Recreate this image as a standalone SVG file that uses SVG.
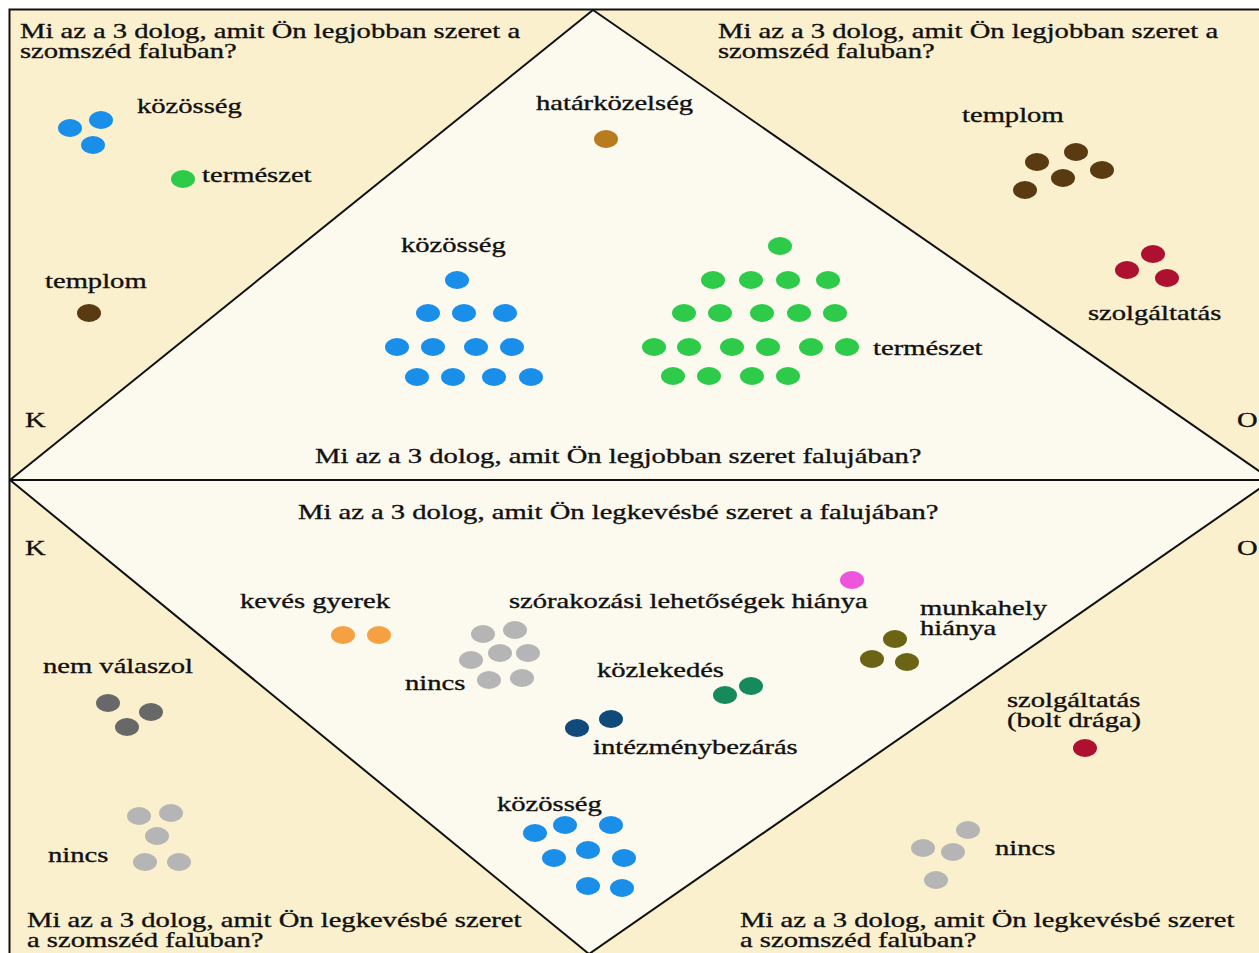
<svg xmlns="http://www.w3.org/2000/svg" width="1259" height="953" viewBox="0 0 1259 953">
<style>
text{font-family:"Liberation Serif","Times New Roman",serif;font-size:22px;fill:#111;stroke:#111;stroke-width:0.35}
.frame{stroke:#111;stroke-width:2}
.outer{fill:#FBF0CE}
.inner{fill:#FCF9EE;stroke:none}
.lines{fill:none}
.blue{fill:#1A8FEA}.green{fill:#2DCB49}.ochre{fill:#B77C1E}.brown{fill:#5A3A10}
.red{fill:#AE1130}.orange{fill:#F5A142}.lgray{fill:#B5B5B5}.dgray{fill:#686868}
.pink{fill:#EE55DD}.olive{fill:#6B6414}.teal{fill:#178A5C}.navy{fill:#0F4A7A}
</style>
<defs>
<ellipse id="d" cx="0" cy="0" rx="12" ry="9"/>
</defs>
<rect x="0" y="0" width="1259" height="953" fill="#fff"/>
<g id="frame">
<rect x="9.5" y="9.5" width="1262" height="962" class="frame outer"/>
<polygon points="593,10 1272,480 589,954 10,480" class="inner"/>
</g>
<g id="connectors" class="frame lines">
<line x1="593" y1="10" x2="10" y2="480"/>
<line x1="593" y1="10" x2="1272" y2="480"/>
<line x1="10" y1="480" x2="589" y2="954"/>
<line x1="589" y1="954" x2="1272" y2="480"/>
<line x1="10" y1="480" x2="1272" y2="480"/>
</g>
<g id="titles">
<text transform="translate(20,38) scale(1.3,1)">Mi az a 3 dolog, amit Ön legjobban szeret a<tspan x="0" dy="20">szomszéd faluban?</tspan></text>
<text transform="translate(718,38) scale(1.3,1)">Mi az a 3 dolog, amit Ön legjobban szeret a<tspan x="0" dy="20">szomszéd faluban?</tspan></text>
<text transform="translate(315,463) scale(1.3,1)">Mi az a 3 dolog, amit Ön legjobban szeret falujában?</text>
<text transform="translate(298,519) scale(1.3,1)">Mi az a 3 dolog, amit Ön legkevésbé szeret a falujában?</text>
<text transform="translate(27,927) scale(1.3,1)">Mi az a 3 dolog, amit Ön legkevésbé szeret<tspan x="0" dy="20">a szomszéd faluban?</tspan></text>
<text transform="translate(740,927) scale(1.3,1)">Mi az a 3 dolog, amit Ön legkevésbé szeret<tspan x="0" dy="20">a szomszéd faluban?</tspan></text>
<text transform="translate(25,427) scale(1.3,1)">K</text>
<text transform="translate(1237,427) scale(1.3,1)">O</text>
<text transform="translate(25,555) scale(1.3,1)">K</text>
<text transform="translate(1237,555) scale(1.3,1)">O</text>
</g>
<g id="tl-kozosseg">
<text transform="translate(137,113) scale(1.3,1)">közösség</text>
<use href="#d" x="70" y="128" class="blue"/><use href="#d" x="101" y="120" class="blue"/><use href="#d" x="93" y="145" class="blue"/>
</g>
<g id="tl-termeszet">
<use href="#d" x="183" y="179" class="green"/>
<text transform="translate(202,182) scale(1.3,1)">természet</text>
</g>
<g id="tl-templom">
<text transform="translate(45,288) scale(1.3,1)">templom</text>
<use href="#d" x="89" y="313" class="brown"/>
</g>
<g id="c-hatarkozelseg">
<text transform="translate(536,110) scale(1.3,1)">határközelség</text>
<use href="#d" x="606" y="139" class="ochre"/>
</g>
<g id="c-kozosseg">
<text transform="translate(401,252) scale(1.3,1)">közösség</text>
<g class="blue">
<use href="#d" x="457" y="280"/>
<use href="#d" x="428" y="313"/><use href="#d" x="464" y="313"/><use href="#d" x="505" y="313"/>
<use href="#d" x="397" y="347"/><use href="#d" x="433" y="347"/><use href="#d" x="476" y="347"/><use href="#d" x="512" y="347"/>
<use href="#d" x="417" y="377"/><use href="#d" x="453" y="377"/><use href="#d" x="494" y="377"/><use href="#d" x="531" y="377"/>
</g>
</g>
<g id="c-termeszet">
<g class="green">
<use href="#d" x="780" y="246"/>
<use href="#d" x="713" y="280"/><use href="#d" x="751" y="280"/><use href="#d" x="788" y="280"/><use href="#d" x="828" y="280"/>
<use href="#d" x="684" y="313"/><use href="#d" x="720" y="313"/><use href="#d" x="762" y="313"/><use href="#d" x="799" y="313"/><use href="#d" x="835" y="313"/>
<use href="#d" x="654" y="347"/><use href="#d" x="689" y="347"/><use href="#d" x="732" y="347"/><use href="#d" x="768" y="347"/><use href="#d" x="811" y="347"/><use href="#d" x="847" y="347"/>
<use href="#d" x="673" y="376"/><use href="#d" x="709" y="376"/><use href="#d" x="752" y="376"/><use href="#d" x="788" y="376"/>
</g>
<text transform="translate(873,355) scale(1.3,1)">természet</text>
</g>
<g id="tr-templom">
<text transform="translate(962,122) scale(1.3,1)">templom</text>
<g class="brown">
<use href="#d" x="1037" y="162"/><use href="#d" x="1076" y="152"/><use href="#d" x="1102" y="170"/><use href="#d" x="1063" y="178"/><use href="#d" x="1025" y="190"/>
</g>
</g>
<g id="tr-szolgaltatas">
<g class="red">
<use href="#d" x="1153" y="254"/><use href="#d" x="1127" y="270"/><use href="#d" x="1167" y="278"/>
</g>
<text transform="translate(1088,320) scale(1.3,1)">szolgáltatás</text>
</g>
<g id="b-keves-gyerek">
<text transform="translate(240,608) scale(1.3,1)">kevés gyerek</text>
<use href="#d" x="343" y="635" class="orange"/><use href="#d" x="379" y="635" class="orange"/>
</g>
<g id="b-nincs">
<g class="lgray">
<use href="#d" x="483" y="634"/><use href="#d" x="515" y="630"/><use href="#d" x="471" y="660"/><use href="#d" x="500" y="653"/><use href="#d" x="528" y="653"/><use href="#d" x="489" y="680"/><use href="#d" x="522" y="678"/>
</g>
<text transform="translate(405,690) scale(1.3,1)">nincs</text>
</g>
<g id="b-szorakozas">
<text transform="translate(509,608) scale(1.3,1)">szórakozási lehetőségek hiánya</text>
<use href="#d" x="852" y="580" class="pink"/>
</g>
<g id="b-munkahely">
<text transform="translate(920,615) scale(1.3,1)">munkahely<tspan x="0" dy="20">hiánya</tspan></text>
<g class="olive"><use href="#d" x="895" y="639"/><use href="#d" x="872" y="659"/><use href="#d" x="907" y="662"/></g>
</g>
<g id="b-kozlekedes">
<text transform="translate(597,677) scale(1.3,1)">közlekedés</text>
<use href="#d" x="725" y="695" class="teal"/><use href="#d" x="751" y="686" class="teal"/>
</g>
<g id="b-intezmeny">
<use href="#d" x="577" y="728" class="navy"/><use href="#d" x="611" y="719" class="navy"/>
<text transform="translate(593,754) scale(1.3,1)">intézménybezárás</text>
</g>
<g id="b-kozosseg">
<text transform="translate(497,811) scale(1.3,1)">közösség</text>
<g class="blue">
<use href="#d" x="535" y="833"/><use href="#d" x="565" y="825"/><use href="#d" x="611" y="825"/>
<use href="#d" x="554" y="858"/><use href="#d" x="588" y="850"/><use href="#d" x="624" y="858"/>
<use href="#d" x="588" y="886"/><use href="#d" x="622" y="888"/>
</g>
</g>
<g id="bl-nem-valaszol">
<text transform="translate(43,673) scale(1.3,1)">nem válaszol</text>
<g class="dgray"><use href="#d" x="108" y="703"/><use href="#d" x="151" y="712"/><use href="#d" x="127" y="727"/></g>
</g>
<g id="bl-nincs">
<g class="lgray"><use href="#d" x="139" y="816"/><use href="#d" x="171" y="813"/><use href="#d" x="157" y="836"/><use href="#d" x="145" y="862"/><use href="#d" x="179" y="862"/></g>
<text transform="translate(48,862) scale(1.3,1)">nincs</text>
</g>
<g id="br-szolgaltatas">
<text transform="translate(1007,707) scale(1.3,1)">szolgáltatás<tspan x="0" dy="20">(bolt drága)</tspan></text>
<use href="#d" x="1085" y="748" class="red"/>
</g>
<g id="br-nincs">
<g class="lgray"><use href="#d" x="968" y="830"/><use href="#d" x="923" y="848"/><use href="#d" x="953" y="852"/><use href="#d" x="936" y="880"/></g>
<text transform="translate(995,855) scale(1.3,1)">nincs</text>
</g>
</svg>
